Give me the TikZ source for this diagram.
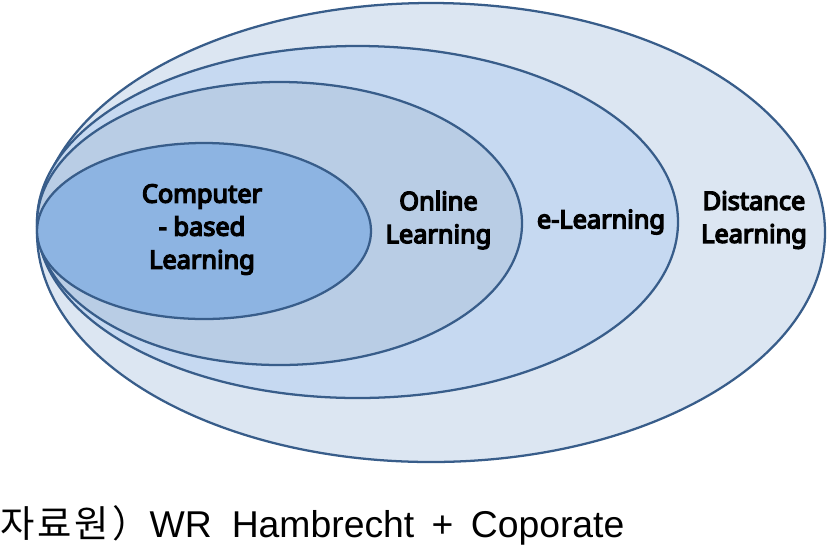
\documentclass[tikz,border=0pt]{standalone}
\usepackage{fontspec}
\setmainfont{Noto Sans}
\newfontfamily\lblfont{Noto Sans}[FakeBold=5.5]
\newfontfamily\krfont{Noto Sans CJK KR}[LetterSpace=8]
\newfontfamily\capfont{Liberation Sans}
\usetikzlibrary{shapes.geometric}
\definecolor{edgeblue}{HTML}{385D8A}
\definecolor{fillD}{HTML}{DCE6F2}
\definecolor{fillE}{HTML}{C6D9F1}
\definecolor{fillO}{HTML}{B9CDE5}
\definecolor{fillC}{HTML}{8DB4E2}
\begin{document}
\begin{tikzpicture}[x=0.75pt,y=-0.75pt,
  ring/.style={ellipse, draw=edgeblue, line width=1.7pt, inner sep=0pt},
  lbl/.style={font=\lblfont\fontsize{19}{24.75}\selectfont, align=center, inner sep=0pt, text=black},
  caption/.style={font=\fontsize{28}{32}\selectfont, inner sep=0pt, anchor=base west}]
\useasboundingbox (0,0) rectangle (827,544);
\node[ring, fill=fillD, minimum width=591pt, minimum height=344.25pt] (dist) at (431,232.5) {};
\node[ring, fill=fillE, minimum width=480.75pt, minimum height=264pt] (elearn) at (357.5,222) {};
\node[ring, fill=fillO, minimum width=363.75pt, minimum height=212.25pt] (online) at (279.5,223.5) {};
\node[ring, fill=fillC, minimum width=250.5pt, minimum height=132pt] (cbl) at (204,231) {};
\node[lbl] (tcbl) at (202,229.5) {Computer\\- based\\Learning};
\node[lbl] (tonline) at (438.5,220) {Online\\Learning};
\node[lbl] (telearn) at (601,222) {e-Learning};
\node[lbl] (tdist) at (754,220) {Distance\\Learning};
\node[caption] (src) at (0,537) {{\krfont 자료원）}\capfont WR\hspace{15pt}Hambrecht\hspace{13pt}+\hspace{13pt}Coporate};
\end{tikzpicture}
\end{document}
